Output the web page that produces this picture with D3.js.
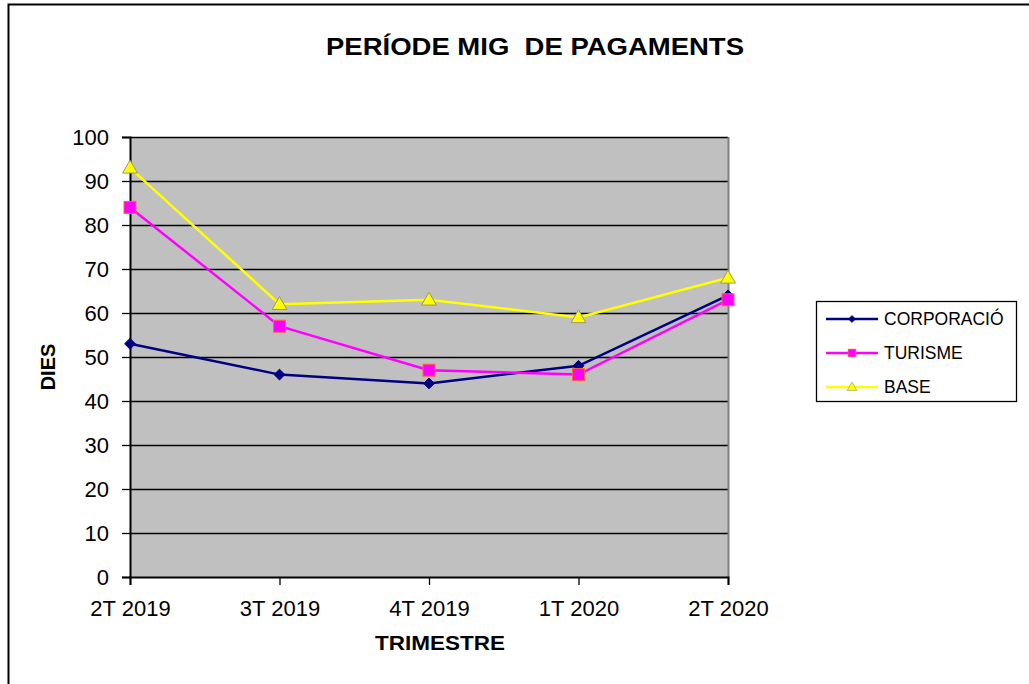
<!DOCTYPE html>
<html>
<head>
<meta charset="utf-8">
<script src="https://cdn.jsdelivr.net/npm/d3@7"></script>
<style>
  body { margin: 0; background: #fff; }
  text { font-family: Arial, "Liberation Sans", sans-serif; fill: #000; }
</style>
</head>
<body>
<svg id="chart" width="1029" height="684"></svg>
<script>
var quarters = ["2T 2019", "3T 2019", "4T 2019", "1T 2020", "2T 2020"];
var corporacio = [53, 46, 44, 48, 64];
var turisme = [84, 57, 47, 46, 63];
var base = [93, 62, 63, 59, 68];
var yTicks = [0, 10, 20, 30, 40, 50, 60, 70, 80, 90, 100];

var series = [
  {name: "CORPORACIÓ", values: corporacio, color: "#000080", marker: "diamond"},
  {name: "TURISME", values: turisme, color: "#FF00FF", marker: "square"},
  {name: "BASE", values: base, color: "#FFFF00", marker: "triangle"}
];

var svg = d3.select("#chart"),
    margin = {top: 137, left: 130},
    width = 598,
    height = 440;

// outer chart frame (only left and top edges visible)
svg.append("rect")
  .attr("x", 8.5).attr("y", 4.5)
  .attr("width", 1040).attr("height", 700)
  .attr("fill", "none").attr("stroke", "#000").attr("stroke-width", 2);

var g = svg.append("g").attr("transform", "translate(" + margin.left + "," + margin.top + ")");

var x = d3.scalePoint().domain(quarters).range([0, width]);
var y = d3.scaleLinear().domain([0, 100]).range([height, 0]);

g.append("rect")
  .attr("width", width).attr("height", height)
  .attr("fill", "#C0C0C0");

// gridlines
g.selectAll(".grid")
  .data(yTicks.filter(function(d) { return d > 0; }))
  .enter().append("line")
    .attr("x1", 0).attr("x2", width)
    .attr("y1", function(d) { return Math.round(y(d)) + 0.5; })
    .attr("y2", function(d) { return Math.round(y(d)) + 0.5; })
    .attr("stroke", "#000").attr("stroke-width", 1.3);

// right plot border
g.append("line")
  .attr("x1", width + 0.5).attr("x2", width + 0.5)
  .attr("y1", 0).attr("y2", height)
  .attr("stroke", "#808080").attr("stroke-width", 2);

// axes
var yAxis = g.append("g")
  .call(d3.axisLeft(y).tickValues(yTicks).tickSize(8).tickPadding(13));
var xAxis = g.append("g")
  .attr("transform", "translate(0," + height + ")")
  .call(d3.axisBottom(x).tickSize(8).tickPadding(15));

[yAxis, xAxis].forEach(function(a) {
  a.select(".domain").attr("stroke", "#000").attr("stroke-width", 2);
  a.selectAll(".tick line").attr("stroke", "#000").attr("stroke-width", 1.3);
  a.selectAll(".tick text")
    .attr("font-size", "22px")
    .attr("font-family", "Arial, 'Liberation Sans', sans-serif")
    .attr("fill", "#000");
});

var line = d3.line()
  .x(function(d, i) { return x(quarters[i]); })
  .y(function(d) { return y(d); });

function drawMarker(sel, type, color) {
  if (type === "diamond") {
    sel.append("path")
      .attr("d", d3.symbol().type(d3.symbolDiamond2).size(75))
      .attr("fill", color).attr("stroke", color).attr("stroke-width", 1);
  } else if (type === "square") {
    sel.append("rect")
      .attr("x", -6).attr("y", -6).attr("width", 12).attr("height", 12)
      .attr("fill", color).attr("stroke", "#FF6633").attr("stroke-width", 1);
  } else {
    sel.append("path")
      .attr("d", d3.symbol().type(d3.symbolTriangle).size(95))
      .attr("transform", "translate(0,1)")
      .attr("fill", color).attr("stroke", "#999966").attr("stroke-width", 1);
  }
}

series.forEach(function(s) {
  g.append("path")
    .datum(s.values)
    .attr("fill", "none")
    .attr("stroke", s.color)
    .attr("stroke-width", 2.5)
    .attr("d", line);
});
series.forEach(function(s) {
  s.values.forEach(function(v, i) {
    var m = g.append("g").attr("transform", "translate(" + x(quarters[i]) + "," + y(v) + ")");
    drawMarker(m, s.marker, s.color);
  });
});

// title and axis labels
svg.append("text")
  .attr("x", 535).attr("y", 55)
  .attr("text-anchor", "middle")
  .attr("font-size", "24px").attr("font-weight", "bold")
  .style("white-space", "pre")
  .attr("textLength", 418).attr("lengthAdjust", "spacingAndGlyphs")
  .text("PERÍODE MIG  DE PAGAMENTS");

svg.append("text")
  .attr("x", 440).attr("y", 650)
  .attr("text-anchor", "middle")
  .attr("font-size", "20px").attr("font-weight", "bold")
  .attr("textLength", 130).attr("lengthAdjust", "spacingAndGlyphs")
  .text("TRIMESTRE");

svg.append("text")
  .attr("transform", "translate(55,367) rotate(-90)")
  .attr("text-anchor", "middle")
  .attr("font-size", "20px").attr("font-weight", "bold")
  .text("DIES");

// legend
var legend = svg.append("g").attr("transform", "translate(816,301)");
legend.append("rect")
  .attr("x", 0.5).attr("y", 0.5).attr("width", 200).attr("height", 100)
  .attr("fill", "#fff").attr("stroke", "#000").attr("stroke-width", 1.3);

var items = legend.selectAll(".item")
  .data(series)
  .enter().append("g")
    .attr("transform", function(d, i) { return "translate(0," + (18 + i * 34) + ")"; });

items.append("line")
  .attr("x1", 10).attr("x2", 62)
  .attr("stroke", function(d) { return d.color; })
  .attr("stroke-width", 2.5);
items.each(function(d) {
  var m = d3.select(this).append("g").attr("transform", "translate(36,0) scale(0.65)");
  drawMarker(m, d.marker, d.color);
});
items.append("text")
  .attr("x", 68).attr("dy", "0.35em")
  .attr("font-size", "17.5px")
  .text(function(d) { return d.name; });
</script>
</body>
</html>
